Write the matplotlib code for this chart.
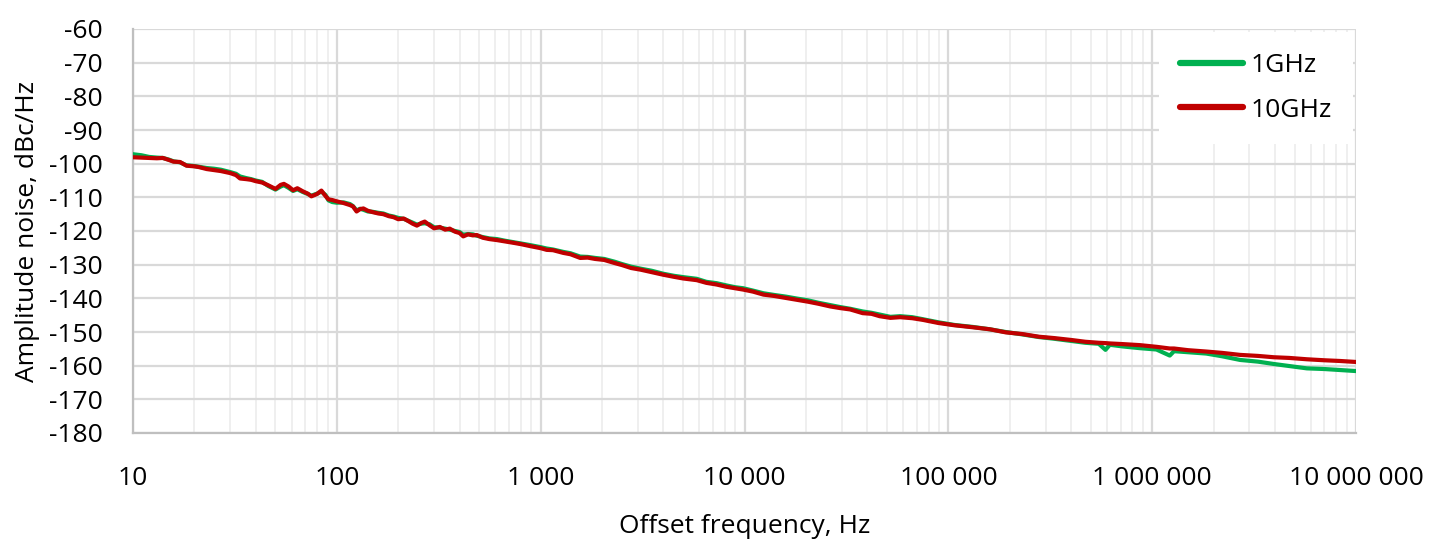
import matplotlib
matplotlib.use("Agg")
import matplotlib.pyplot as plt
from matplotlib.ticker import FixedLocator, FuncFormatter, NullFormatter

# offset frequency, Hz
freq = [10, 11, 12, 13.1, 14, 15, 15.8, 17, 18.3, 20, 21, 23, 25, 27, 30, 32, 33.5, 36, 38, 40,
        43, 46, 50, 53, 55, 58, 61, 64, 68, 72, 75, 80, 84, 88, 91, 95, 100, 108, 116, 120,
        125, 130, 135, 142, 150, 160, 169, 180, 190, 200, 213, 225, 235, 247, 260, 270, 285, 300, 320, 340,
        358, 380, 400, 417, 440, 465, 486, 520, 560, 610, 670, 734, 800, 890, 1000, 1070, 1150, 1290, 1400, 1563,
        1700, 1850, 2050, 2300, 2500, 2780, 3100, 3500, 4000, 4500, 5000, 5830, 6500, 7300, 8200, 9000, 9850, 11000, 12400, 14000,
        16000, 18200, 20500, 23000, 26300, 29500, 33000, 38000, 42000, 46000, 52000, 58000, 66500, 75000, 89000, 107000, 132000, 160000, 191000, 230000,
        278000, 330000, 405000, 470000, 547000, 590000, 620000, 720000, 870000, 1050000, 1220000, 1280000, 1500000, 1840000, 2200000, 2700000, 3300000, 3950000, 4700000, 5740000,
        7000000, 8300000, 10000000]

# 10GHz carrier
noise_10g = [-98.1, -98.2, -98.3, -98.4, -98.3, -98.9, -99.4, -99.5, -100.6, -100.8, -101.0, -101.6, -101.9, -102.2, -102.8, -103.4, -104.4, -104.6, -104.8, -105.2,
             -105.6, -106.4, -107.5, -106.3, -106.0, -106.8, -107.9, -107.3, -108.2, -108.9, -109.7, -109.0, -108.0, -109.6, -110.6, -110.8, -111.2, -111.7, -112.3, -112.7,
             -114.2, -113.5, -113.3, -114.0, -114.4, -114.8, -115.0, -115.6, -115.9, -116.5, -116.3, -117.1, -117.8, -118.4, -117.6, -117.2, -118.3, -119.2, -118.8, -119.6,
             -119.3, -120.2, -120.6, -121.6, -121.0, -121.3, -121.2, -122.0, -122.4, -122.7, -123.1, -123.5, -123.9, -124.5, -125.1, -125.6, -125.7, -126.5, -126.9, -128.0,
             -127.9, -128.3, -128.6, -129.5, -130.1, -131.0, -131.5, -132.2, -133.0, -133.6, -134.1, -134.6, -135.4, -135.9, -136.6, -137.0, -137.4, -138.0, -138.9, -139.3,
             -139.9, -140.5, -141.0, -141.6, -142.4, -142.9, -143.3, -144.4, -144.6, -145.3, -145.8, -145.6, -145.9, -146.4, -147.3, -148.0, -148.6, -149.2, -150.1, -150.6,
             -151.4, -151.8, -152.4, -152.9, -153.2, -153.3, -153.4, -153.6, -153.9, -154.4, -154.9, -154.9, -155.4, -155.8, -156.2, -156.8, -157.1, -157.5, -157.7, -158.1,
             -158.4, -158.6, -158.9]

# 1GHz carrier
noise_1g = [-97.2, -97.5, -98.0, -98.2, -98.3, -98.8, -99.3, -99.6, -100.5, -100.7, -100.9, -101.3, -101.5, -101.8, -102.5, -103.0, -103.8, -104.3, -104.6, -105.0,
            -105.4, -106.6, -107.7, -106.8, -106.4, -107.2, -108.1, -107.6, -108.4, -109.0, -109.5, -108.9, -108.3, -109.3, -110.9, -111.4, -111.6, -111.5, -112.0, -112.6,
            -113.9, -113.4, -113.7, -114.2, -114.3, -114.6, -114.8, -115.4, -115.7, -116.1, -116.4, -117.0, -117.5, -118.1, -117.8, -117.7, -118.0, -118.9, -119.0, -119.3,
            -119.6, -120.0, -120.3, -121.1, -120.9, -121.0, -121.4, -121.8, -122.2, -122.4, -122.9, -123.3, -123.7, -124.2, -124.8, -125.2, -125.5, -126.2, -126.6, -127.6,
            -127.7, -128.0, -128.3, -129.1, -129.8, -130.6, -131.2, -131.8, -132.7, -133.3, -133.7, -134.2, -135.1, -135.5, -136.2, -136.7, -137.0, -137.7, -138.5, -139.0,
            -139.5, -140.1, -140.6, -141.3, -142.0, -142.6, -143.1, -143.9, -144.3, -144.8, -145.5, -145.3, -145.6, -146.2, -147.1, -147.9, -148.5, -149.2, -150.0, -150.7,
            -151.5, -152.0, -152.7, -153.2, -153.5, -155.3, -153.8, -154.3, -154.8, -155.2, -157.0, -155.7, -156.0, -156.4, -157.2, -158.3, -158.8, -159.5, -160.1, -160.8,
            -161.0, -161.3, -161.6]

x_major = [10, 100, 1000, 10000, 100000, 1000000, 10000000]
y_ticks = list(range(-180, -59, 10))

plt.rcParams['font.family'] = ['Open Sans', 'DejaVu Sans']
plt.rcParams['axes.unicode_minus'] = False

fig = plt.figure(figsize=(14.38, 5.49), dpi=100)
ax = fig.add_axes([133 / 1438, 1 - 433 / 549, 1223 / 1438, 404 / 549])

ax.plot(freq, noise_1g, color='#00B050', lw=3.0, label='1GHz', zorder=3)
ax.plot(freq, noise_10g, color='#C00000', lw=3.0, label='10GHz', zorder=4)

ax.set_xscale('log')
ax.set_xlim(10, 1e7)
ax.set_ylim(-180, -60)
ax.xaxis.set_major_locator(FixedLocator(x_major))
ax.xaxis.set_minor_locator(FixedLocator([m * d for d in x_major[:-1] for m in range(2, 10)]))
ax.xaxis.set_minor_formatter(NullFormatter())
ax.xaxis.set_major_formatter(FuncFormatter(lambda v, p: f"{int(round(v)):,}".replace(',', ' ')))
ax.set_yticks(y_ticks)

ax.grid(which='major', color='#D9D9D9', lw=1.6, zorder=0)
ax.grid(which='minor', axis='x', color='#EFEFEF', lw=1.4, zorder=0)
for s in ['top', 'right']:
    ax.spines[s].set_visible(False)
for s in ['left', 'bottom']:
    ax.spines[s].set_color('#BFBFBF')
    ax.spines[s].set_linewidth(1.6)

fs = 19
ax.tick_params(which='both', length=0, labelsize=fs)
ax.tick_params(axis='y', pad=22)
ax.tick_params(axis='x', pad=24)

ax.set_ylabel('Amplitude noise, dBc/Hz', fontsize=fs, labelpad=6)
ax.set_xlabel('Offset frequency, Hz', fontsize=fs, labelpad=16)

leg = ax.legend(loc='upper right', fontsize=fs, frameon=True, fancybox=False,
                edgecolor='none', facecolor='white', framealpha=1,
                handlelength=2.4, borderaxespad=0.1, labelspacing=0.75,
                handletextpad=0.3, borderpad=0.8)
leg.get_frame().set_linewidth(0)
for h in leg.get_lines():
    h.set_linewidth(4.5)
    h.set_solid_capstyle('round')

fig.savefig('out.png', dpi=100)
